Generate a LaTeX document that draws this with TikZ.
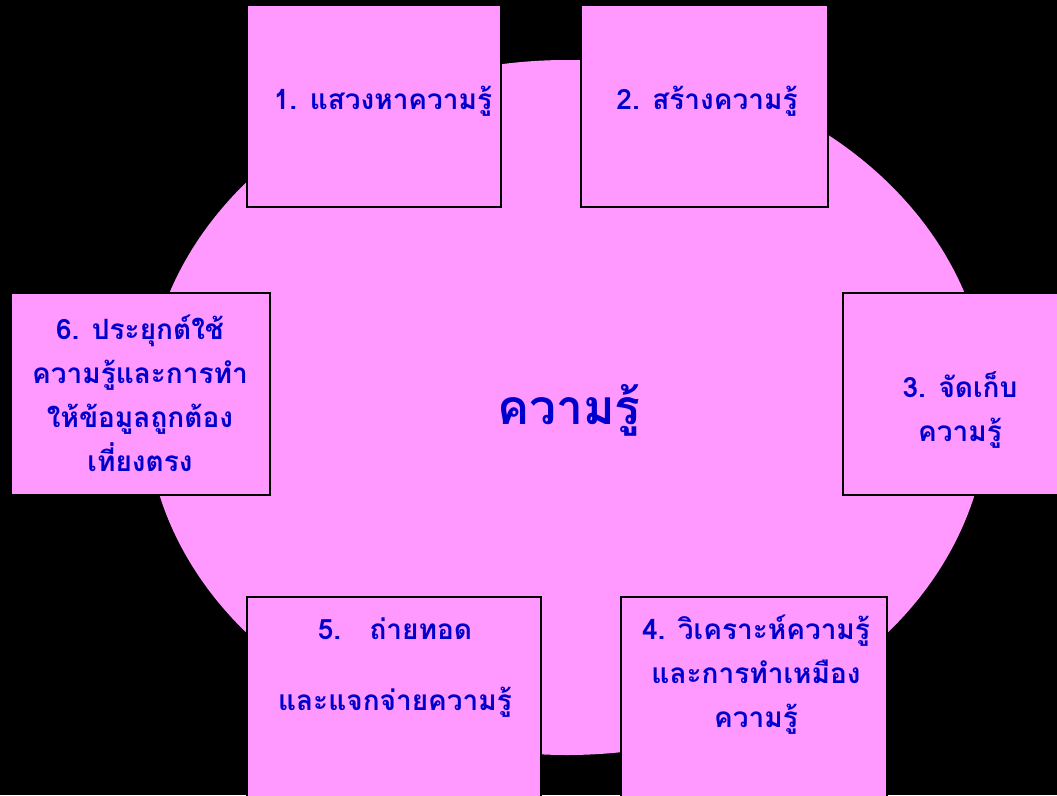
\documentclass[tikz,border=0pt]{standalone}
\usepackage{fontspec}
\newfontfamily\thaifont[Script=Thai]{Loma}
\definecolor{pinkfill}{HTML}{FF99FF}
\definecolor{txtblue}{HTML}{0000CC}
\tikzset{
  boxshape/.style={draw=black, line width=2pt, fill=pinkfill},
  boxtext/.style={text=txtblue, font=\thaifont\bfseries\fontsize{28}{44}\selectfont, align=center, inner sep=0pt},
}
\begin{document}
\begin{tikzpicture}[x=1pt,y=-1pt]
\useasboundingbox[fill=black] (0,0) rectangle (1057,795);
\fill[pinkfill] (567,407.5) ellipse [x radius=421, y radius=347.5];
\node[boxtext, font=\thaifont\bfseries\fontsize{48}{50}\selectfont] (center) at (569,410) {ความรู้};
% boxes
\draw[boxshape] (247,5) rectangle (501,207);
\node[boxtext] (b1) at (383,101) {1. แสวงหาความรู้};
\draw[boxshape] (581,5) rectangle (828,207);
\node[boxtext] (b2) at (707,101) {2. สร้างความรู้};
\draw[boxshape] (843,293) rectangle (1065,495);
\node[boxtext] (b3) at (960,410) {3. จัดเก็บ\\ความรู้};
\draw[boxshape] (621,597) rectangle (887,805);
\node[boxtext] (b4) at (756,675) {4. วิเคราะห์ความรู้\\และการทำเหมือง\\ความรู้};
\draw[boxshape] (247,597) rectangle (541,805);
\node[boxtext, font=\thaifont\bfseries\fontsize{28}{71}\selectfont] (b5) at (395,668) {5.\ \ \ ถ่ายทอด\\และแจกจ่ายความรู้};
\draw[boxshape] (11,293) rectangle (270,495);
\node[boxtext] (b6) at (140,393) {6. ประยุกต์ใช้\\ความรู้และการทำ\\ให้ข้อมูลถูกต้อง\\เที่ยงตรง};
\end{tikzpicture}
\end{document}
